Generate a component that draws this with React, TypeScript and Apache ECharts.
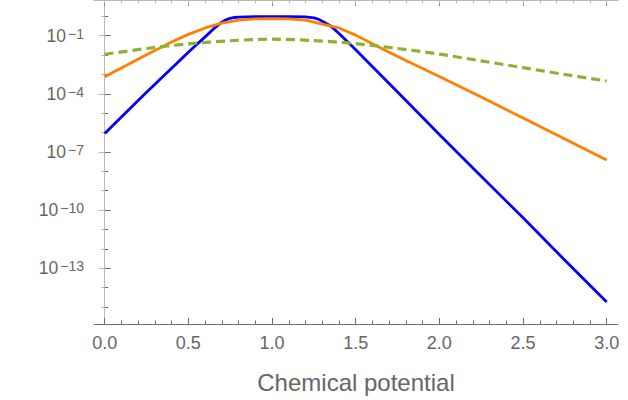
import { useEffect, useRef } from "react";
import * as echarts from "echarts";

// Curve samples: chemical potential (x) and value (y, plotted on a log axis)
const blueMu = [0, 0.25, 0.5, 0.55, 0.6, 0.65, 0.7, 0.725, 0.75, 0.775, 0.8, 0.9, 1.0, 1.1, 1.2, 1.225, 1.25, 1.275, 1.3, 1.35, 1.4, 1.45, 1.5, 1.75, 2.0, 2.25, 2.5, 2.75, 3.0];
const blueVal = [8.9e-7, 1.2e-4, 1.41e-2, 3.55e-2, 8.7e-2, 0.224, 0.5, 0.66, 0.79, 0.87, 0.91, 0.955, 0.955, 0.955, 0.93, 0.89, 0.83, 0.72, 0.56, 0.32, 0.13, 0.05, 1.9e-2, 1.26e-4, 7.9e-7, 5.6e-9, 4.0e-11, 2.6e-13, 1.8e-15];

const orangeMu = [0, 0.25, 0.4, 0.5, 0.6, 0.7, 0.8, 0.9, 1.0, 1.1, 1.2, 1.3, 1.4, 1.5, 1.6, 1.7, 1.8, 2.0, 2.25, 2.5, 2.75, 3.0];
const orangeVal = [7.6e-4, 1.05e-2, 4.7e-2, 0.117, 0.251, 0.447, 0.63, 0.74, 0.76, 0.74, 0.63, 0.4, 0.251, 0.107, 3.8e-2, 1.41e-2, 5.2e-3, 7.9e-4, 6.8e-5, 5.6e-6, 4.7e-7, 3.9e-8];

const greenMu = [0, 0.25, 0.5, 0.75, 1.0, 1.25, 1.5, 1.75, 2.0, 2.25, 2.5, 2.75, 3.0];
const greenVal = [0.011, 0.0219, 0.038, 0.055, 0.066, 0.056, 0.039, 0.0219, 0.0112, 5.0e-3, 2.24e-3, 1.0e-3, 4.6e-4];

// Axis ticks
const xMajor = [0, 0.5, 1.0, 1.5, 2.0, 2.5, 3.0];
const xMinor = Array.from({ length: 31 }, (_, i) => Math.round(i * 10) / 100);
const yMajorExp = [-13, -10, -7, -4, -1];
const yMinorExp = [-15, -14, -12, -11, -9, -8, -6, -5, -3, -2, 0];

const X_MIN = -0.064;
const X_MAX = 3.0675;
const Y_MIN = Math.pow(10, -15.876);
const Y_MAX = Math.pow(10, 0.842);

const FONT = "Liberation Sans, Arial, sans-serif";
const TEXT = "#666666";
const DARK = "#6e6e6e";
const LIGHT = "#b8b8b8";

const zip = (xs: number[], ys: number[]) => xs.map((x, i) => [x, ys[i]]);

export default function App() {
  const ref = useRef<HTMLDivElement>(null);

  useEffect(() => {
    if (!ref.current) return;
    const chart = echarts.init(ref.current, undefined, { renderer: "svg" });

    const yMajor = yMajorExp.map((e) => Math.pow(10, e));
    const yMinor = yMinorExp.map((e) => Math.pow(10, e));

    const xBase = { type: "value" as const, min: X_MIN, max: X_MAX, splitLine: { show: false } };
    const yBase = { type: "log" as const, logBase: 10, min: Y_MIN, max: Y_MAX, splitLine: { show: false } };

    const expLabel = (v: number) => {
      const e = Math.round(Math.log10(v));
      return `{b|10}{s|${e < 0 ? "\u2212" + -e : e}}`;
    };

    chart.setOption({
      animation: false,
      backgroundColor: "#ffffff",
      grid: { left: 94, right: 10, top: 0, bottom: 76, containLabel: false },
      xAxis: [
        {
          ...xBase,
          position: "bottom",
          axisLine: { show: true, lineStyle: { color: DARK, width: 1 } },
          axisTick: { show: true, inside: true, length: 6, customValues: xMajor, lineStyle: { color: DARK } },
          axisLabel: {
            customValues: xMajor,
            formatter: (v: number) => v.toFixed(1),
            color: TEXT,
            fontSize: 18,
            fontFamily: FONT,
            margin: 10,
          },
          name: "Chemical potential",
          nameLocation: "middle",
          nameGap: 46,
          nameTextStyle: { fontSize: 24, color: TEXT, fontFamily: FONT },
        },
        {
          ...xBase,
          position: "bottom",
          axisLine: { show: false },
          axisTick: { show: true, inside: true, length: 3.5, customValues: xMinor, lineStyle: { color: DARK } },
          axisLabel: { show: false },
        },
        {
          ...xBase,
          position: "top",
          axisLine: { show: true, lineStyle: { color: LIGHT, width: 1 } },
          axisTick: { show: true, inside: true, length: 6, customValues: xMajor, lineStyle: { color: "#8a8a8a" } },
          axisLabel: { show: false },
        },
        {
          ...xBase,
          position: "top",
          axisLine: { show: false },
          axisTick: { show: true, inside: true, length: 3.5, customValues: xMinor, lineStyle: { color: LIGHT } },
          axisLabel: { show: false },
        },
      ],
      yAxis: [
        {
          ...yBase,
          position: "left",
          axisLine: { show: true, lineStyle: { color: DARK, width: 1 } },
          axisTick: { show: true, inside: true, length: 6, customValues: yMajor, lineStyle: { color: DARK } },
          axisLabel: {
            customValues: yMajor,
            formatter: expLabel,
            margin: 10,
            align: "right",
            rich: {
              b: { fontSize: 17.5, lineHeight: 18, color: TEXT, fontFamily: FONT, verticalAlign: "bottom" },
              s: { fontSize: 14, lineHeight: 14, color: TEXT, fontFamily: FONT, verticalAlign: "top", padding: [0, 0, 8, 2] },
            },
          },
        },
        {
          ...yBase,
          position: "left",
          axisLine: { show: false },
          axisTick: { show: true, inside: true, length: 3.5, customValues: yMinor, lineStyle: { color: DARK } },
          axisLabel: { show: false },
        },
        {
          ...yBase,
          position: "right",
          axisLine: { show: true, lineStyle: { color: LIGHT, width: 1 } },
          axisTick: { show: true, inside: true, length: 6, customValues: yMajor, lineStyle: { color: LIGHT } },
          axisLabel: { show: false },
        },
        {
          ...yBase,
          position: "right",
          axisLine: { show: false },
          axisTick: { show: true, inside: true, length: 3.5, customValues: yMinor, lineStyle: { color: LIGHT } },
          axisLabel: { show: false },
        },
      ],
      series: [
        {
          name: "blue",
          type: "line",
          data: zip(blueMu, blueVal),
          showSymbol: false,
          symbol: "none",
          lineStyle: { color: "#0000ff", width: 2.8, join: "round" },
        },
        {
          name: "orange",
          type: "line",
          data: zip(orangeMu, orangeVal),
          showSymbol: false,
          symbol: "none",
          lineStyle: { color: "#ff8000", width: 2.8, join: "round" },
        },
        {
          name: "green",
          type: "line",
          data: zip(greenMu, greenVal),
          showSymbol: false,
          symbol: "none",
          smooth: 0.3,
          lineStyle: { color: "#8fb032", width: 3.2, type: [9, 5], cap: "butt" },
        },
      ],
    });

    return () => chart.dispose();
  }, []);

  return (
    <div
      ref={ref}
      style={{ position: "absolute", left: 0, top: 0, width: 628, height: 400, background: "#ffffff" }}
    />
  );
}
